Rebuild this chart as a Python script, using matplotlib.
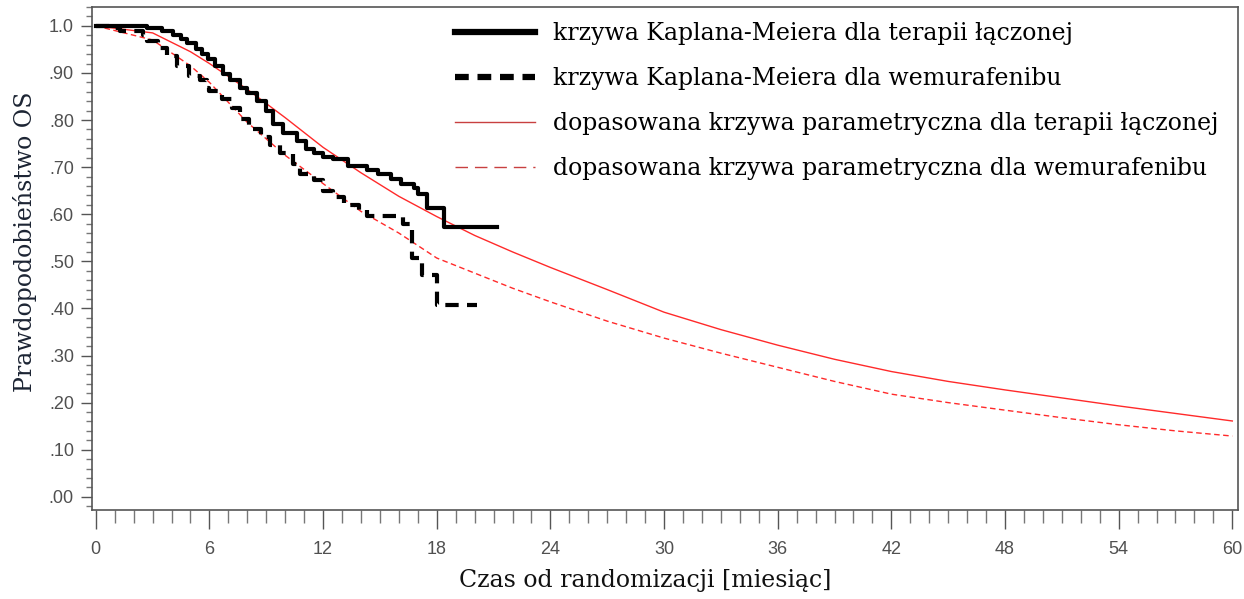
import numpy as np
import matplotlib

matplotlib.use("Agg")
import matplotlib.pyplot as plt  # noqa: E402
from matplotlib.lines import Line2D  # noqa: E402
from matplotlib.ticker import MultipleLocator, FixedLocator  # noqa: E402

# Kaplan-Meier, combination therapy (step times in months, survival)
km_combo_t = [0, 2.7, 3.5, 4.1, 4.5, 4.8, 5.3, 5.6, 5.9, 6.3, 6.7, 7.1, 7.6, 8.0, 8.5,
              9.0, 9.35, 9.9, 10.6, 11.1, 11.5, 12.0, 12.5, 13.3, 14.3, 14.9, 15.6,
              16.1, 16.8, 17.0, 17.5, 18.4, 21.2]
km_combo_s = [1.0, 0.995, 0.99, 0.98, 0.972, 0.964, 0.951, 0.94, 0.93, 0.915, 0.898,
              0.885, 0.869, 0.858, 0.841, 0.82, 0.792, 0.773, 0.756, 0.739, 0.731,
              0.722, 0.718, 0.703, 0.693, 0.686, 0.675, 0.665, 0.655, 0.644, 0.614,
              0.572, 0.572]

# Kaplan-Meier, vemurafenib
km_vem_t = [0, 0.7, 1.3, 2.5, 2.7, 3.3, 3.75, 4.3, 4.9, 5.5, 5.85, 6.0, 6.65, 7.2, 7.6,
            8.1, 8.7, 9.2, 9.7, 10.4, 10.8, 11.5, 12.0, 12.5, 13.1, 13.9, 14.3, 16.2,
            16.7, 17.2, 18.0, 20.1]
km_vem_s = [1.0, 0.995, 0.99, 0.98, 0.968, 0.953, 0.936, 0.915, 0.894, 0.884, 0.869,
            0.862, 0.845, 0.826, 0.803, 0.782, 0.763, 0.746, 0.729, 0.707, 0.686,
            0.672, 0.65, 0.636, 0.619, 0.61, 0.597, 0.58, 0.508, 0.47, 0.407, 0.407]

# fitted parametric curves
fit_t = [0, 3, 5, 6, 8, 10, 12, 14, 16, 18, 20, 22, 24, 27, 30, 33, 36, 39, 42, 45,
         48, 51, 54, 57, 60]
fit_combo_s = [1.0, 0.985, 0.945, 0.92, 0.865, 0.805, 0.742, 0.688, 0.638, 0.595,
               0.555, 0.52, 0.487, 0.44, 0.392, 0.355, 0.322, 0.292, 0.266, 0.245,
               0.227, 0.21, 0.193, 0.177, 0.161]
fit_vem_s = [1.0, 0.97, 0.915, 0.88, 0.795, 0.725, 0.665, 0.606, 0.56, 0.507, 0.475,
             0.443, 0.414, 0.373, 0.337, 0.305, 0.275, 0.245, 0.218, 0.2, 0.184,
             0.168, 0.153, 0.14, 0.129]

labels = [
    "krzywa Kaplana-Meiera dla terapii łączonej",
    "krzywa Kaplana-Meiera dla wemurafenibu",
    "dopasowana krzywa parametryczna dla terapii łączonej",
    "dopasowana krzywa parametryczna dla wemurafenibu",
]
y_ticks = [0.0, 0.1, 0.2, 0.3, 0.4, 0.5, 0.6, 0.7, 0.8, 0.9, 1.0]
y_ticklabels = [".00", ".10", ".20", ".30", ".40", ".50", ".60", ".70", ".80", ".90", "1.0"]
x_ticks = list(range(0, 61, 6))

RED = "#ff2a2a"
SERIF = "DejaVu Serif"
TXT = 17

fig = plt.figure(figsize=(12.44, 5.99), dpi=100)
ax = fig.add_axes([92 / 1244, 1 - 510 / 599, (1238 - 92) / 1244, (510 - 7) / 599])

ax.plot(fit_t, fit_combo_s, color=RED, lw=1.0)
ax.plot(fit_t, fit_vem_s, color=RED, lw=1.0, dashes=(4, 2.5))
ax.plot(km_combo_t, km_combo_s, color="black", lw=3.0, drawstyle="steps-post")
ax.plot(km_vem_t, km_vem_s, color="black", lw=3.0, drawstyle="steps-post",
        dashes=(3.2, 2.0))

ax.set_xlim(-0.2, 60.3)
ax.set_ylim(-0.028, 1.04)

ax.xaxis.set_major_locator(FixedLocator(x_ticks))
ax.xaxis.set_minor_locator(MultipleLocator(1))
ax.yaxis.set_major_locator(FixedLocator(y_ticks))
ax.yaxis.set_minor_locator(MultipleLocator(0.02))
ax.set_yticklabels(y_ticklabels)
ax.set_xticklabels([str(v) for v in x_ticks])

ax.tick_params(axis="x", which="major", length=14, width=1, color="#555555", pad=8)
ax.tick_params(axis="x", which="minor", length=9, width=1, color="#777777")
ax.tick_params(axis="y", which="major", length=8, width=1, color="#555555", pad=5)
ax.tick_params(axis="y", which="minor", length=4, width=1, color="#777777")
for lab in ax.get_xticklabels() + ax.get_yticklabels():
    lab.set_fontfamily("Liberation Sans")
    lab.set_fontsize(13)
    lab.set_color("#505050")
for sp in ax.spines.values():
    sp.set_color("#555555")
    sp.set_linewidth(1.2)

fig.text(25 / 1244, 1 - 242 / 599, "Prawdopodobieństwo OS", rotation=90,
         ha="center", va="center", fontsize=TXT, family=SERIF, color="#1c2433")
fig.text(645 / 1244, 1 - 580 / 599, "Czas od randomizacji [miesiąc]",
         ha="center", va="center", fontsize=TXT, family=SERIF, color="#111111")

handles = [
    Line2D([], [], color="black", lw=4.5),
    Line2D([], [], color="black", lw=4.5, dashes=(2.2, 1.4)),
    Line2D([], [], color="#c84040", lw=1.0),
    Line2D([], [], color="#c84040", lw=1.0, dashes=(9, 5)),
]
ax.legend(handles, labels, loc="upper left", bbox_to_anchor=(455 / 1244, 1 - 22 / 599),
          bbox_transform=fig.transFigure, frameon=False, borderpad=0, borderaxespad=0,
          handlelength=3.4, handletextpad=0.76, labelspacing=0.93,
          prop={"family": SERIF, "size": TXT})

fig.savefig("out.png", dpi=100, facecolor="white")
